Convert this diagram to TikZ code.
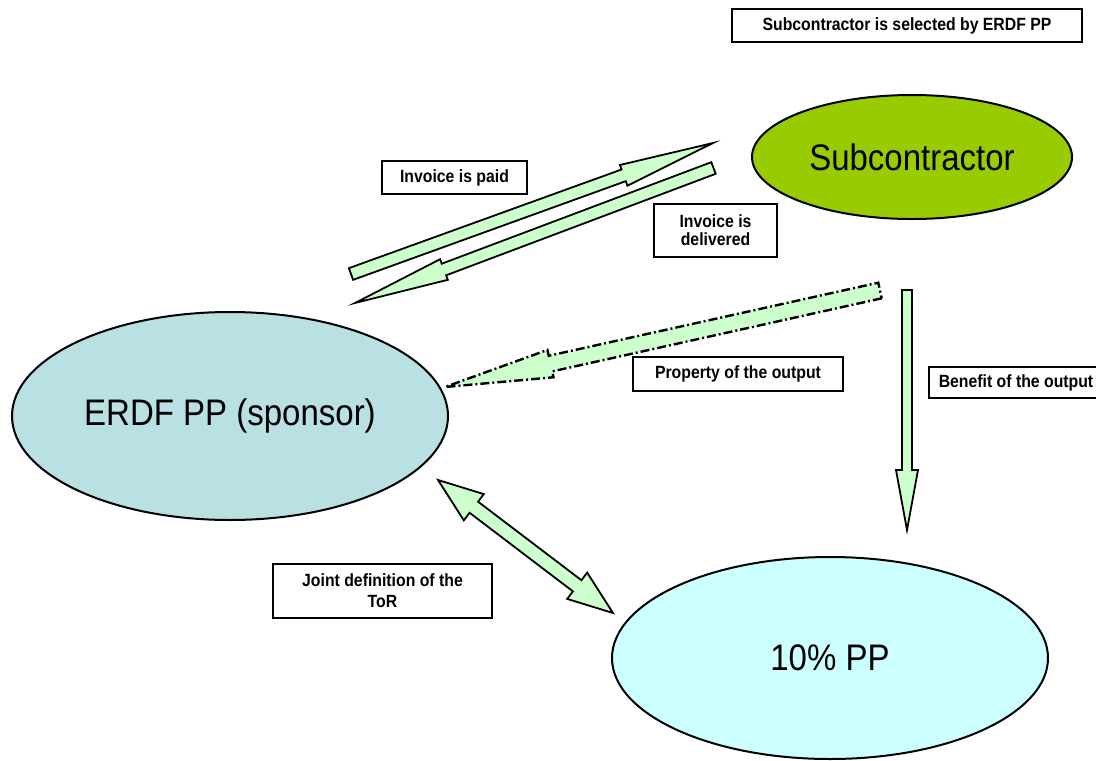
\documentclass[tikz,border=0pt]{standalone}
\usepackage{fontspec}
\usepackage{graphicx}
\setmainfont{Liberation Sans}
\usetikzlibrary{shapes.geometric}
\definecolor{subgreen}{HTML}{99CC00}
\definecolor{erdfblue}{HTML}{B9E0E3}
\definecolor{ppcyan}{HTML}{CCFFFF}
\definecolor{arrgreen}{HTML}{CCFFCC}
\newcommand\tallt[1]{\scalebox{1}[1.12]{#1}}
\tikzset{
  blockarrow/.style={draw=black, fill=arrgreen, line width=1.8pt, line join=miter},
  lbl/.style={draw, line width=1.6pt, fill=white, font=\fontsize{15.8}{18}\selectfont\bfseries, align=center, inner sep=0pt},
  bubble/.style={ellipse, draw, line width=2pt, inner sep=0pt, font=\fontsize{33}{38}\selectfont},
  dashdotline/.style={dash pattern=on 9pt off 3pt on 2pt off 3pt, line width=2.4pt},
}
\makeatletter
% #1 options, #2 from, #3 to, #4 shaft half width, #5 head half width, #6 head length
\newcommand\blockarrow[6][]{%
  \pgfmathanglebetweenpoints{\pgfpointanchor{#2}{center}}{\pgfpointanchor{#3}{center}}%
  \let\ba@angle\pgfmathresult
  \pgfpointdiff{\pgfpointanchor{#2}{center}}{\pgfpointanchor{#3}{center}}%
  \edef\ba@dx{\the\pgf@x}\edef\ba@dy{\the\pgf@y}%
  \pgfmathveclen{\ba@dx}{\ba@dy}%
  \let\ba@len\pgfmathresult
  \begin{scope}[shift={(#2)},rotate=\ba@angle]
    \draw[blockarrow,#1] (0pt,#4) -- ({\ba@len pt-#6},#4) -- ({\ba@len pt-#6},#5)
      -- (\ba@len pt,0pt) -- ({\ba@len pt-#6},-#5) -- ({\ba@len pt-#6},-#4) -- (0pt,-#4) -- cycle;
  \end{scope}}
\newcommand\doublearrow[6][]{%
  \pgfmathanglebetweenpoints{\pgfpointanchor{#2}{center}}{\pgfpointanchor{#3}{center}}%
  \let\ba@angle\pgfmathresult
  \pgfpointdiff{\pgfpointanchor{#2}{center}}{\pgfpointanchor{#3}{center}}%
  \edef\ba@dx{\the\pgf@x}\edef\ba@dy{\the\pgf@y}%
  \pgfmathveclen{\ba@dx}{\ba@dy}%
  \let\ba@len\pgfmathresult
  \begin{scope}[shift={(#2)},rotate=\ba@angle]
    \draw[blockarrow,#1] (0pt,0pt) -- (#6,#5) -- (#6,#4) -- ({\ba@len pt-#6},#4) -- ({\ba@len pt-#6},#5)
      -- (\ba@len pt,0pt) -- ({\ba@len pt-#6},-#5) -- ({\ba@len pt-#6},-#4) -- (#6,-#4) -- (#6,-#5) -- cycle;
  \end{scope}}
\makeatother
\begin{document}
\begin{tikzpicture}[x=1pt,y=-1pt]
\useasboundingbox[fill=white] (0,0) rectangle (1096,761);

% bubbles
\node[bubble, fill=subgreen, minimum width=320pt, minimum height=124pt] (sub) at (912,157) {\tallt{Subcontractor}};
\node[bubble, fill=erdfblue, minimum width=436pt, minimum height=208pt] (erdf) at (230,416) {\tallt{ERDF PP (sponsor)}};
\node[bubble, fill=ppcyan, minimum width=436pt, minimum height=202pt] (pp) at (830,658) {\tallt{10\% PP}};

% arrow end points
\coordinate (paidS) at (351,274);
\coordinate (paidE) at (713,143);
\coordinate (delS) at (713.5,168);
\coordinate (delE) at (355,303);
\coordinate (propS) at (880,290.5);
\coordinate (propE) at (445,387);
\coordinate (benS) at (907,290);
\coordinate (benE) at (907,530);
\coordinate (torA) at (438,480);
\coordinate (torB) at (613,613);

% arrows
\blockarrow{paidS}{paidE}{6.2pt}{11pt}{95pt}
\blockarrow{delS}{delE}{6.2pt}{11pt}{95pt}
\blockarrow[dashdotline]{propS}{propE}{8pt}{14pt}{108pt}
\blockarrow{benS}{benE}{5pt}{11pt}{60pt}
\doublearrow{torA}{torB}{7pt}{16.5pt}{45pt}

% labels
\node[lbl, minimum width=350pt, minimum height=33pt] (selected) at (907,25.5) {\tallt{Subcontractor is selected by ERDF PP}};
\node[lbl, minimum width=145pt, minimum height=33pt] (paid) at (454.5,177.5) {\tallt{Invoice is paid}};
\node[lbl, minimum width=123pt, minimum height=53pt] (delivered) at (715.5,230.5) {\tallt{Invoice is}\\\tallt{delivered}};
\node[lbl, minimum width=210pt, minimum height=34pt] (property) at (738,374) {\tallt{Property of the output}};
\node[lbl, minimum width=174pt, minimum height=31pt] (benefit) at (1016,382.5) {\tallt{Benefit of the output}};
\node[lbl, minimum width=219pt, minimum height=54pt] (tor) at (382.5,591) {\tallt{Joint definition of the}\\[3pt]\tallt{ToR}};
\end{tikzpicture}
\end{document}
